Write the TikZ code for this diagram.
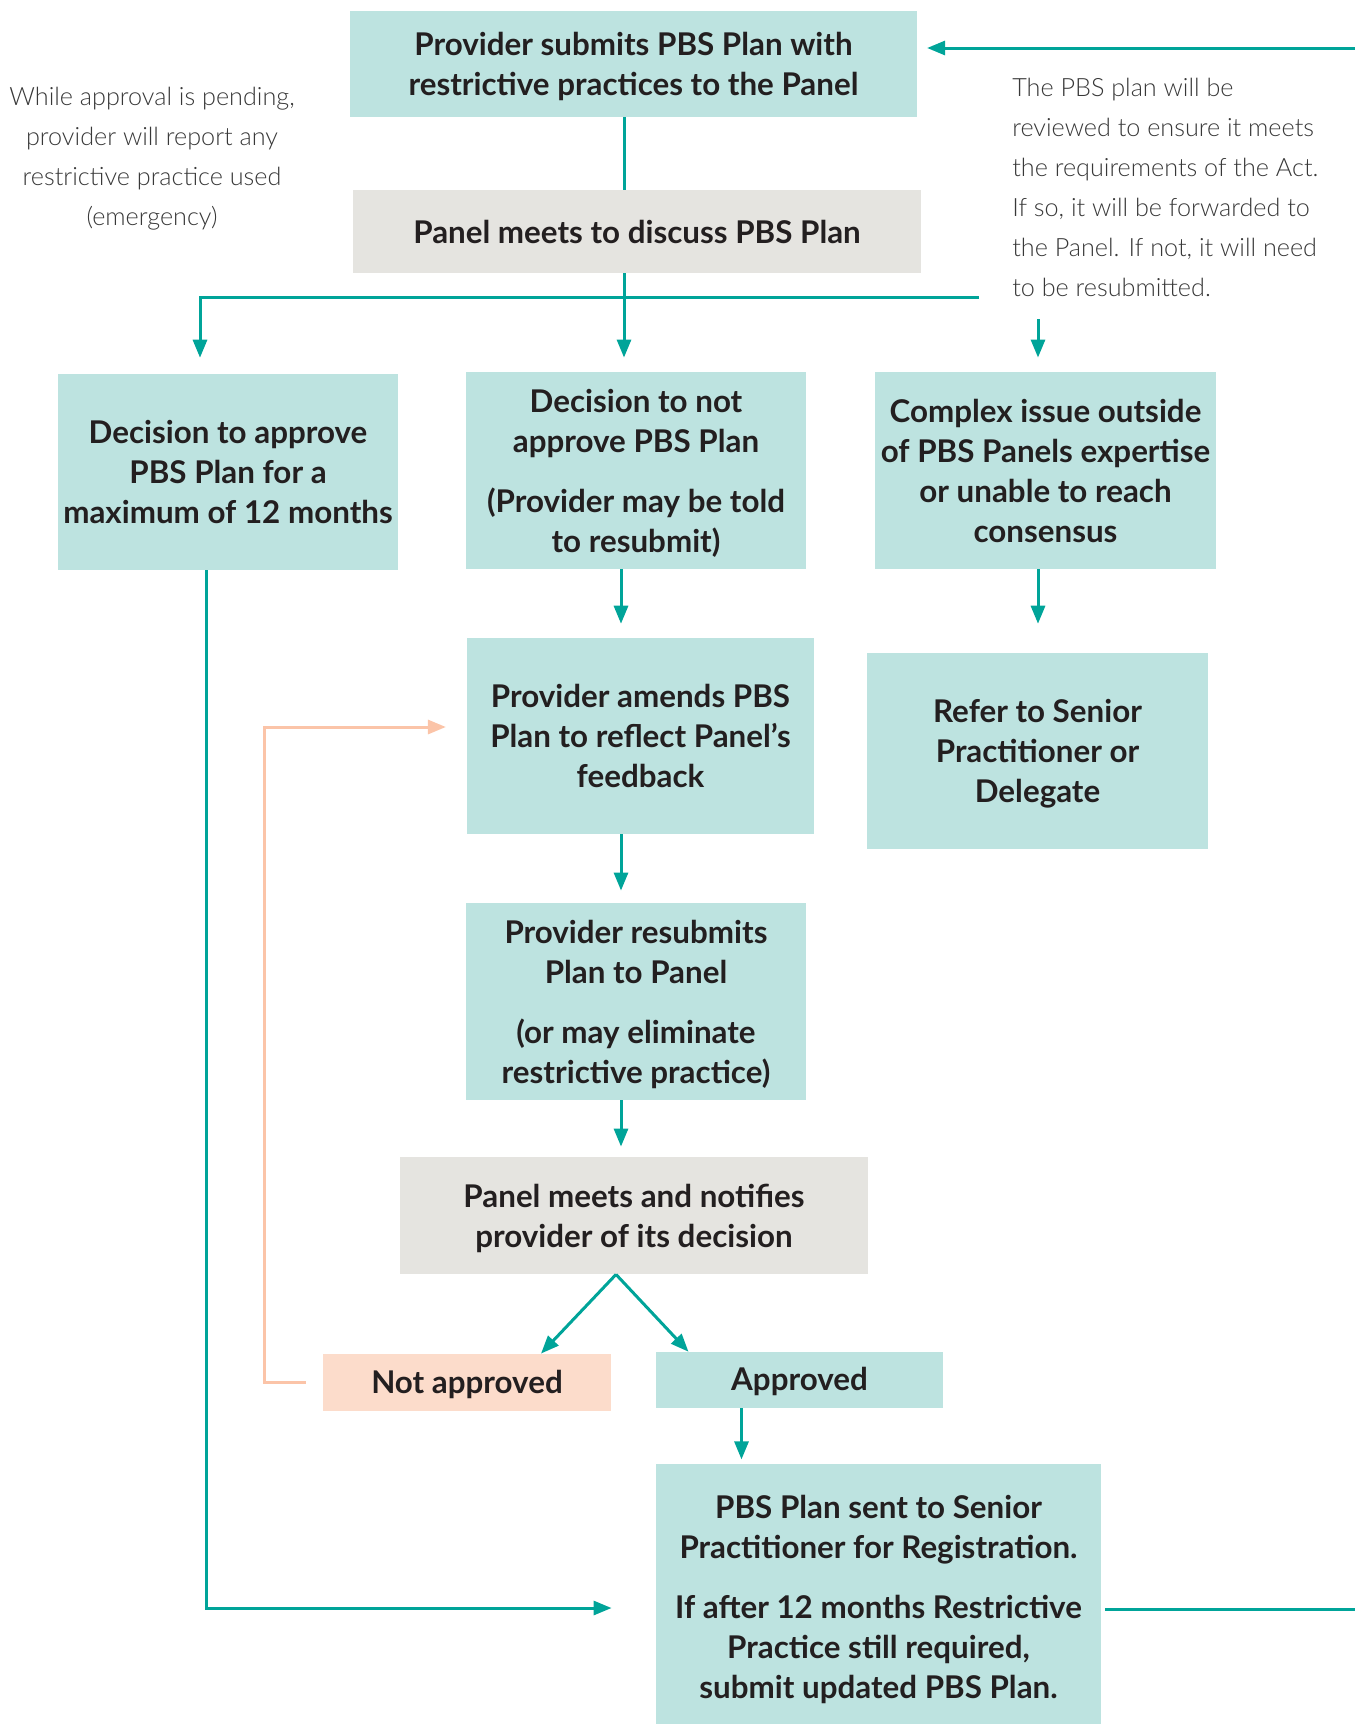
\documentclass[tikz,border=0pt]{standalone}
\usepackage{fontspec}
\setmainfont{Lato}
\newfontfamily\notefont{Lato Light}
\usetikzlibrary{arrows.meta}
\definecolor{boxteal}{HTML}{BDE3E0}
\definecolor{boxgrey}{HTML}{E5E4E0}
\definecolor{boxpeach}{HTML}{FCDCCB}
\definecolor{lineteal}{HTML}{00A499}
\definecolor{linepeach}{HTML}{FBC4A8}
\definecolor{inkdark}{HTML}{231F20}
\definecolor{inknote}{HTML}{383838}
\tikzset{
  stepnode/.style={inner sep=0pt, align=center, text=inkdark,
    font=\fontsize{23.5}{30}\selectfont\bfseries},
  tealbox/.style={stepnode, fill=boxteal},
  greybox/.style={stepnode, fill=boxgrey},
  peachbox/.style={stepnode, fill=boxpeach},
  lowered/.style={text depth=-1.5pt},
  tagbox/.style={text depth=1pt},
  note/.style={inner sep=0pt, text=inknote, font=\notefont\fontsize{18.9}{30}\selectfont},
  link/.style={draw=lineteal, line width=2.25pt},
  flow/.style={link, -{Triangle[length=13.5pt,width=10.5pt]}},
  backflow/.style={draw=linepeach, line width=2.25pt, -{Triangle[length=13.5pt,width=10.5pt]}},
}
\begin{document}
\begin{tikzpicture}[x=0.75pt,y=-0.75pt]
  \useasboundingbox (0,0) rectangle (1354,1724);
  % columns of the connectors
  \coordinate (spine) at (624,297);
  \coordinate (colA) at (200,297);
  \coordinate (colB) at (621,0);
  \coordinate (colC) at (1038,0);
  \coordinate (rail) at (206,1608);
  \coordinate (loopTop) at (1360,48);
  \coordinate (loopBot) at (1360,1609);
  \coordinate (branchEnd) at (979,297);
  \coordinate (rightStart) at (1038,319);
  \coordinate (peachBend) at (264,727);
  % boxes
  \node[tealbox, lowered, minimum width=425pt, minimum height=79.5pt] (submit) at (633.5,64)
    {Provider submits PBS Plan with\\restrictive practices to the Panel};
  \node[greybox, minimum width=426pt, minimum height=62pt] (discuss) at (637,231.5)
    {Panel meets to discuss PBS Plan};
  \node[tealbox, lowered, minimum width=255pt, minimum height=147pt] (approve) at (228,472)
    {Decision to approve\\PBS Plan for a\\maximum of 12 months};
  \node[tealbox, lowered, minimum width=255pt, minimum height=148pt] (decline) at (636,470.5)
    {Decision to not\\approve PBS Plan\\[15pt](Provider may be told\\to resubmit)};
  \node[tealbox, lowered, minimum width=256pt, minimum height=148pt] (complex) at (1045.5,470.5)
    {Complex issue outside\\of PBS Panels expertise\\or unable to reach\\consensus};
  \node[tealbox, lowered, minimum width=260pt, minimum height=147pt] (amend) at (640.5,736)
    {Provider amends PBS\\Plan to reflect Panel’s\\feedback};
  \node[tealbox, lowered, minimum width=256pt, minimum height=147pt] (refer) at (1037.5,751)
    {Refer to Senior\\Practitioner or\\Delegate};
  \node[tealbox, lowered, minimum width=255pt, minimum height=148pt] (resubmit) at (636,1001.5)
    {Provider resubmits\\Plan to Panel\\[15pt](or may eliminate\\restrictive practice)};
  \node[greybox, lowered, minimum width=351pt, minimum height=88pt] (notify) at (634,1215.5)
    {Panel meets and notifies\\provider of its decision};
  \node[peachbox, tagbox, minimum width=216pt, minimum height=43pt] (rejected) at (467,1382.5)
    {Not approved};
  \node[tealbox, tagbox, minimum width=215pt, minimum height=42pt] (accepted) at (799.5,1380)
    {Approved};
  \node[tealbox, lowered, minimum width=334pt, minimum height=200pt] (register) at (878.5,1597)
    {PBS Plan sent to Senior\\Practitioner for Registration.\\[15pt]If after 12 months Restrictive\\Practice still required,\\submit updated PBS Plan.};
  % side notes
  \node[note, align=center] (pending) at (152,159)
    {While approval is pending,\\provider will report any\\restrictive practice used\\(emergency)};
  \node[note, align=left, anchor=west] (review) at (1012,187)
    {The PBS plan will be\\reviewed to ensure it meets\\the requirements of the Act.\\If so, it will be forwarded to\\the Panel. If not, it will need\\to be resubmitted.};
  % connectors
  \draw[flow, shorten >=7.5pt] (loopTop) -- (loopTop -| submit.east);
  \draw[link] (spine |- submit.south) -- (spine |- discuss.north);
  \draw[link] (spine |- discuss.south) -- (spine);
  \draw[flow, shorten >=10.5pt] (spine) -- (spine |- decline.north);
  \draw[flow, shorten >=12pt] (branchEnd) -- (colA) -- (colA |- approve.north);
  \draw[flow, shorten >=10.5pt] (rightStart) -- (rightStart |- complex.north);
  \draw[flow, shorten >=10.5pt] (colB |- decline.south) -- (colB |- amend.north);
  \draw[flow, shorten >=21.75pt] (colC |- complex.south) -- (colC |- refer.north);
  \draw[flow, shorten >=9pt] (colB |- amend.south) -- (colB |- resubmit.north);
  \draw[flow, shorten >=7.5pt] (colB |- resubmit.south) -- (colB |- notify.north);
  \draw[flow] ([xshift=-13.5pt]notify.south) -- ([xshift=55.5pt]rejected.north);
  \draw[flow] ([xshift=-13.5pt]notify.south) -- ([xshift=-83.25pt]accepted.north);
  \draw[backflow, shorten <=12.75pt, shorten >=15.75pt] (rejected.west) -- (rejected.west -| peachBend) -- (peachBend) -- (peachBend -| amend.west);
  \draw[flow, shorten >=3pt] ([xshift=-43.5pt]accepted.south) -- ([xshift=-43.5pt]accepted.south |- register.north);
  \draw[flow, shorten >=33pt] (rail |- approve.south) -- (rail) -- (rail -| register.west);
  \draw[link, shorten <=3pt] (loopBot -| register.east) -- (loopBot);
\end{tikzpicture}
\end{document}
